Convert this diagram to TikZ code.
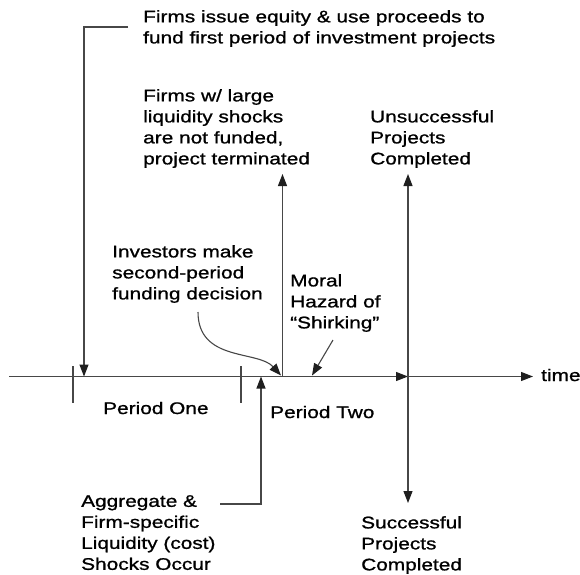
\documentclass[tikz,border=0pt]{standalone}
\usepackage{fontspec}
\setmainfont[FakeStretch=1.24,FakeBold=1]{Liberation Sans}
\usetikzlibrary{arrows.meta}
\begin{document}
\begin{tikzpicture}[x=1pt,y=-1pt,
  lbl/.style={inner sep=0pt, anchor=north west, align=left, font=\fontsize{16.8}{21}\selectfont},
  lblb/.style={inner sep=0pt, anchor=base west, font=\fontsize{16.8}{21}\selectfont},
  ln/.style={draw=black!72, line width=1.1pt},
  arr/.style={ln, -{Triangle[length=12pt,width=9pt,color=black!88]}}]
\useasboundingbox (0,0) rectangle (580,574);

% texts
\node[lbl] (top) at (143,10) {Firms issue equity \& use proceeds to\\fund first period of investment projects};
\node[lbl] (term) at (143,89) {Firms w/ large\\liquidity shocks\\are not funded,\\project terminated};
\node[lbl] (unsucc) at (370,110) {Unsuccessful\\Projects\\Completed};
\node[lbl] (invest) at (112,245) {Investors make\\second-period\\funding decision};
\node[lbl] (moral) at (290,274) {Moral\\Hazard of\\“Shirking”};
\node[lblb] (p1) at (103,414) {Period One};
\node[lblb] (p2) at (270,418) {Period Two};
\node[lblb] (time) at (541,381) {time};
\node[lbl] (shock) at (81,495) {Aggregate \&\\Firm-specific\\Liquidity (cost)\\Shocks Occur};
\node[lbl] (succ) at (361,516) {Successful\\Projects\\Completed};

% timeline
\coordinate (t0) at (9,376.5);
\coordinate (tend) at (533,376.5);
\coordinate (tA) at (84,376.5);
\coordinate (tB) at (261,376.5);
\coordinate (tC) at (282.5,376.5);
\coordinate (tD) at (408,376.5);
\coordinate (tk1a) at (73,366); \coordinate (tk1b) at (73,403);
\coordinate (tk2a) at (241,366); \coordinate (tk2b) at (241,403);

\draw[arr] (t0) -- (tD);
\draw[arr] (tD) -- (tend);
\draw[ln] (tk1a) -- (tk1b);
\draw[ln] (tk2a) -- (tk2b);

% connectors
\coordinate (topc) at (128,27);
\draw[arr] (topc) -| (tA);

\coordinate (termc) at (282.5,174);
\draw[arr] (tC) -- (termc);

\coordinate (unsc) at (408,174);
\coordinate (succc) at (408,503);
\draw[arr] (tD) -- (unsc);
\draw[arr] (tD) -- (succc);

\coordinate (shockc) at (220,504);
\draw[arr] (shockc) -| (tB);

\coordinate (invc) at (198,312);
\coordinate (invt) at (281,375.5);
\draw[arr] (invc) .. controls (198,362) and (258,350) .. (invt);

\coordinate (morc) at (333,340);
\coordinate (mort) at (312,375.5);
\draw[arr] (morc) -- (mort);
\end{tikzpicture}
\end{document}
